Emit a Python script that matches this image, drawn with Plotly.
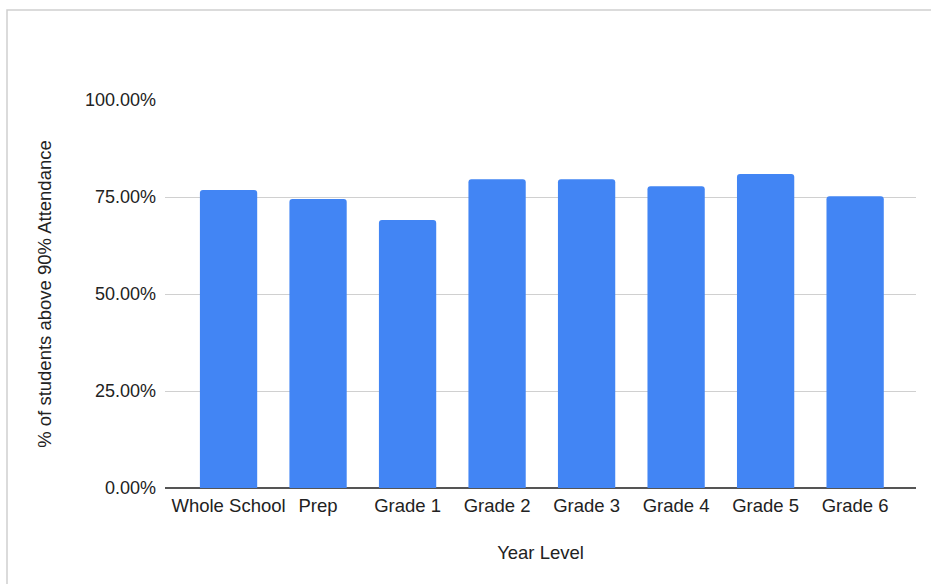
import plotly.graph_objects as go

categories = ["Whole School", "Prep", "Grade 1", "Grade 2", "Grade 3", "Grade 4", "Grade 5", "Grade 6"]
values = [0.768, 0.745, 0.691, 0.796, 0.796, 0.778, 0.809, 0.752]
y_ticks = [0, 0.25, 0.5, 0.75, 1.0]
y_tick_labels = ["0.00%", "25.00%", "50.00%", "75.00%", "100.00%"]

W, H = 931, 584
L, R, T, B = 165, 15, 100, 96
pw = W - L - R
ph = H - T - B

fig = go.Figure(go.Bar(
    x=categories, y=values,
    marker=dict(color="#4285F4", line=dict(width=0), cornerradius=3),
    width=0.64,
))

fig.update_layout(
    width=W, height=H,
    margin=dict(l=L, r=R, t=T, b=B),
    paper_bgcolor="white", plot_bgcolor="white",
    font=dict(family="Liberation Sans, Arial, sans-serif", size=18, color="#222222"),
    showlegend=False,
    shapes=[dict(type="rect", xref="paper", yref="paper",
                 x0=(7 - L) / pw, x1=(W + 20 - L) / pw,
                 y0=-(B + 20) / ph, y1=1 + (T - 10) / ph,
                 line=dict(color="#cfcfcf", width=1.5), layer="below")],
)
fig.update_xaxes(
    type="category", range=[-0.71, 7.68],
    showgrid=False, showline=False, zeroline=False,
    ticks="", ticklabelstandoff=4, tickfont=dict(size=18.5),
    title=dict(text="Year Level", font=dict(size=18.5), standoff=31),
)
fig.update_yaxes(
    range=[0, 1.0], tickvals=y_ticks, ticktext=y_tick_labels,
    showgrid=True, gridcolor="#d0d0d0", gridwidth=1,
    zeroline=True, zerolinecolor="#555555", zerolinewidth=1.5,
    showline=False, ticks="", ticklabelstandoff=8,
    title=dict(text="% of students above 90% Attendance", font=dict(size=18.5), standoff=28),
)
fig.write_html("out.html", config={"displayModeBar": False},
               post_script="document.body.style.margin='0';document.body.style.overflow='hidden';")
